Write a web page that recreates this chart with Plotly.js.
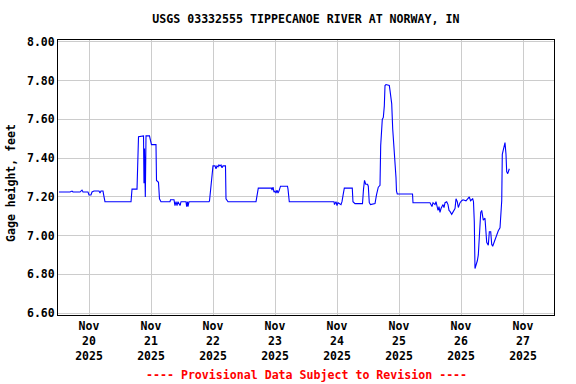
<!DOCTYPE html>
<html>
<head>
<meta charset="utf-8">
<script src="https://cdn.plot.ly/plotly-3.0.1.min.js"></script>
<style>html,body{margin:0;padding:0;background:#fff;}#chart{width:576px;height:384px;}</style>
</head>
<body>
<div id="chart"></div>
<script>
// Hours since 2025-11-20 00:00 (local chart time)
const hours = [
-11.61,-7.35,-6.58,-6.19,-3.48,-2.71,-2.32,-0.39,0,0.77,1.16,1.94,3.87,4.26,4.65,5.42,5.81,6.19,
16.26,16.65,18.58,18.77,19.16,21.10,21.29,21.48,21.80,22.06,23.42,23.81,24.19,25.94,26.13,26.90,27.29,27.87,
31.35,31.55,32.90,33.29,33.68,34.06,34.45,35.23,35.61,37.55,37.82,38.13,38.32,38.71,
46.45,46.65,47.23,47.61,48.00,48.77,49.16,49.55,49.94,50.32,50.71,51.10,51.48,51.87,52.84,53.03,53.81,
64.65,65.03,65.54,70.65,70.84,71.23,71.61,72.00,72.39,72.77,73.16,73.55,74.13,76.84,77.03,77.54,
94.84,95.03,95.61,96.00,96.39,97.55,97.94,98.44,98.83,101.92,102.19,102.97,105.87,106.26,106.65,107.11,107.81,108.12,108.50,108.97,109.94,110.71,111.29,111.99,
112.65,112.92,113.54,113.93,114.32,114.58,114.97,115.74,116.25,116.52,117.18,117.57,118.19,118.46,118.84,119.03,119.34,125.23,125.42,
132.00,132.39,132.77,133.16,133.94,134.32,135.10,135.48,135.87,136.26,136.65,137.03,137.42,137.81,138.47,138.97,139.36,139.74,140.40,140.90,141.29,141.68,142.06,142.57,142.96,143.61,144.27,144.77,145.94,146.71,147.21,147.68,148.53,148.84,
149.15,149.42,150.08,150.31,150.70,151.09,151.36,151.63,152.01,152.40,152.63,153.29,153.68,153.95,154.57,154.96,155.50,155.89,156.27,156.77,157.16,157.82,158.44,159.10,159.76,159.99,160.38,160.77,161.04,161.42,161.69,162.08,162.47,162.70
];
const gage = [
7.225,7.225,7.23,7.225,7.225,7.235,7.225,7.225,7.21,7.21,7.225,7.23,7.23,7.22,7.23,7.23,7.20,7.175,
7.175,7.24,7.24,7.35,7.51,7.515,7.27,7.45,7.20,7.515,7.515,7.49,7.47,7.47,7.285,7.275,7.19,7.175,
7.175,7.185,7.185,7.155,7.175,7.155,7.175,7.155,7.175,7.175,7.15,7.175,7.15,7.175,
7.175,7.18,7.26,7.34,7.36,7.36,7.345,7.36,7.355,7.365,7.36,7.365,7.35,7.36,7.36,7.19,7.175,
7.175,7.20,7.245,7.245,7.235,7.25,7.225,7.23,7.22,7.235,7.22,7.23,7.255,7.255,7.24,7.175,
7.175,7.16,7.175,7.155,7.17,7.16,7.175,7.215,7.245,7.245,7.175,7.165,7.165,7.24,7.285,7.265,7.265,7.255,7.17,7.16,7.165,7.165,7.21,7.25,
7.26,7.465,7.60,7.61,7.67,7.775,7.78,7.775,7.775,7.75,7.68,7.55,7.45,7.37,7.30,7.23,7.215,7.215,7.17,
7.17,7.16,7.15,7.17,7.16,7.175,7.13,7.15,7.12,7.14,7.155,7.16,7.145,7.17,7.175,7.16,7.13,7.125,7.11,7.12,7.13,7.14,7.19,7.175,7.145,7.17,7.18,7.185,7.18,7.19,7.20,7.18,7.19,7.175,
7.07,6.83,6.855,6.87,6.90,6.985,7.11,7.12,7.13,7.10,7.08,7.09,7.035,6.965,6.95,7.02,7.02,6.955,6.945,6.965,6.98,7.00,7.025,7.04,7.18,7.42,7.44,7.47,7.48,7.42,7.33,7.32,7.335,7.345
];
const tickDates = ['2025-11-20','2025-11-21','2025-11-22','2025-11-23','2025-11-24','2025-11-25','2025-11-26','2025-11-27'];
const tickLabels = ['Nov<br>20<br>2025','Nov<br>21<br>2025','Nov<br>22<br>2025','Nov<br>23<br>2025','Nov<br>24<br>2025','Nov<br>25<br>2025','Nov<br>26<br>2025','Nov<br>27<br>2025'];
const yTicks = [6.6,6.8,7.0,7.2,7.4,7.6,7.8,8.0];
const yTickLabels = ['6.60','6.80','7.00','7.20','7.40','7.60','7.80','8.00'];

function pad(n){return (n<10?'0':'')+n;}
const base = Date.UTC(2025,10,20,0,0);
const times = hours.map(h=>{
  const d = new Date(base + Math.round(h*60)*60000);
  return d.getUTCFullYear()+'-'+pad(d.getUTCMonth()+1)+'-'+pad(d.getUTCDate())+' '+pad(d.getUTCHours())+':'+pad(d.getUTCMinutes());
});

const font = {family:'DejaVu Sans Mono, monospace', size:11.5, color:'#000', weight:'bold'};

Plotly.newPlot('chart', [{
  x: times, y: gage, type:'scatter', mode:'lines',
  line:{color:'#0000FF', width:1.1}, hoverinfo:'skip'
}], {
  width:576, height:384,
  margin:{l:58, r:22, t:40, b:69},
  paper_bgcolor:'#fff', plot_bgcolor:'#fff',
  showlegend:false,
  title:{text:'<b>USGS 03332555 TIPPECANOE RIVER AT NORWAY, IN</b>', x:0.531, xanchor:'center', y:0.95, yanchor:'middle', font:{family:'DejaVu Sans Mono, monospace', size:11.6, color:'#000'}},
  xaxis:{
    type:'date', range:['2025-11-19 12:00','2025-11-27 12:00'],
    tickmode:'array', tickvals:tickDates, ticktext:tickLabels,
    showgrid:true, gridcolor:'#cccccc', gridwidth:1,
    showline:true, linecolor:'#000', linewidth:1, mirror:true,
    ticks:'', zeroline:false, tickfont:font
  },
  yaxis:{
    range:[6.59,8.01],
    tickmode:'array', tickvals:yTicks, ticktext:yTickLabels,
    showgrid:true, gridcolor:'#cccccc', gridwidth:1,
    showline:true, linecolor:'#000', linewidth:1, mirror:true,
    ticks:'', zeroline:false, tickfont:font
  },
  annotations:[
    {text:'<b>Gage height, feet</b>', xref:'paper', yref:'paper', x:-0.095, y:0.48, textangle:-90, showarrow:false, xanchor:'center', yanchor:'middle', font:{family:'DejaVu Sans Mono, monospace', size:11.5, color:'#000'}},
    {text:'<b>---- Provisional Data Subject to Revision ----</b>', xref:'paper', yref:'paper', x:0.5, y:-0.218, showarrow:false, xanchor:'center', yanchor:'middle', font:{family:'DejaVu Sans Mono, monospace', size:11.6, color:'#FF0000'}}
  ]
}, {staticPlot:true, displayModeBar:false});
</script>
</body>
</html>
